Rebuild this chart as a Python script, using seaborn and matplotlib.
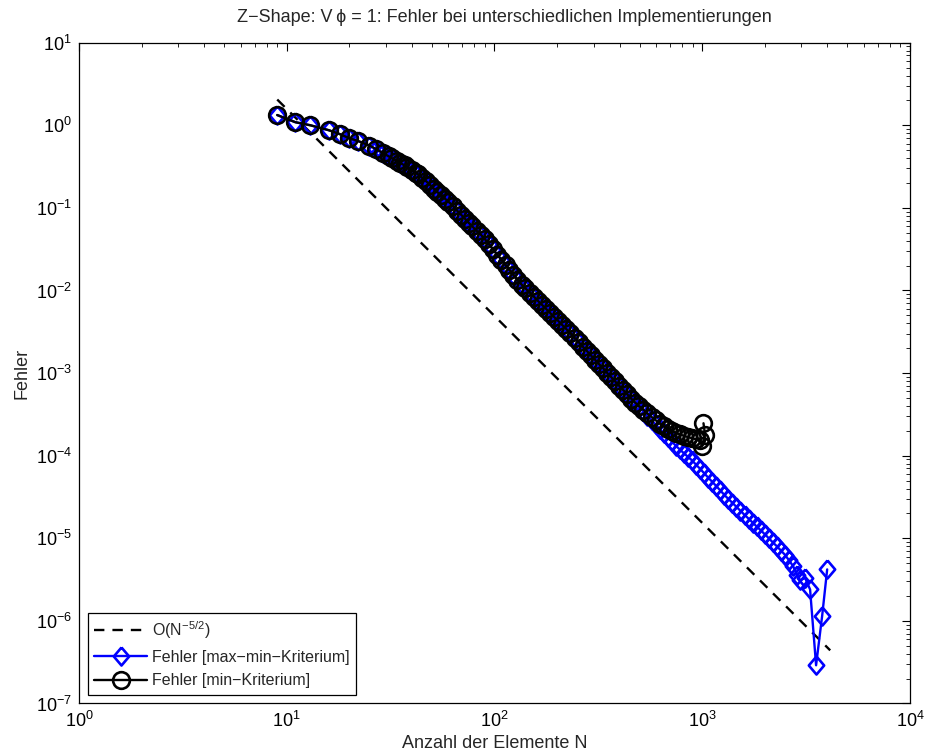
import numpy as np
import pandas as pd
import matplotlib
matplotlib.use("Agg")
import matplotlib.pyplot as plt
import seaborn as sns

# --- data ---
# O(N^-5/2) reference line, end points only
ref_n = [9, 4130]
ref_err = [2.05, 4.4e-7]

# error with max-min criterion (blue diamonds)
maxmin_n = [9, 11, 13, 16, 18, 20, 22, 25, 27, 29, 31, 32, 34, 35, 37, 38, 40, 42, 43, 45,
            47, 49, 51, 53, 55, 58, 60, 63, 66, 69, 72, 75, 78, 82, 86, 90, 94, 98, 103, 108,
            113, 118, 123, 129, 135, 141, 148, 155, 162, 169, 177, 185, 194, 203, 212, 222,
            232, 243, 254, 266, 278, 291, 304, 318, 333, 348, 364, 381, 398, 416, 435, 455,
            476, 498, 521, 545, 570, 596, 623, 652, 682, 713, 746, 780, 816, 853, 892, 933,
            976, 1021, 1068, 1117, 1168, 1222, 1278, 1336, 1397, 1461, 1528, 1598, 1671,
            1748, 1828, 1912, 2000, 2092, 2188, 2288, 2393, 2503, 2618, 2738, 2864, 2960,
            3129, 3305, 3532, 3778, 3994]
maxmin_err = [1.33, 1.09, 1.00, 0.869, 0.782, 0.697, 0.646, 0.569, 0.512, 0.462, 0.420, 0.401,
              0.368, 0.352, 0.326, 0.313, 0.288, 0.265, 0.254, 0.230, 0.209, 0.189, 0.171,
              0.156, 0.144, 0.128, 0.119, 0.106, 0.0929, 0.0828, 0.0741, 0.0664, 0.060, 0.053,
              0.0473, 0.0417, 0.0363, 0.0319, 0.0272, 0.0236, 0.0204, 0.0178, 0.0156, 0.0135,
              0.0118, 0.0106, 0.0094, 0.00838, 0.00746, 0.00673, 0.0060, 0.00537, 0.00475,
              0.00426, 0.00381, 0.0034, 0.00304, 0.00267, 0.00237, 0.00209, 0.00186, 0.00164,
              0.00146, 0.00129, 0.00115, 0.00101, 8.98e-4, 7.92e-4, 7.03e-4, 6.25e-4, 5.56e-4,
              4.91e-4, 4.35e-4, 3.86e-4, 3.43e-4, 3.05e-4, 2.69e-4, 2.39e-4, 2.13e-4, 1.88e-4,
              1.67e-4, 1.49e-4, 1.32e-4, 1.19e-4, 1.07e-4, 9.7e-5, 8.8e-5, 7.8e-5, 6.95e-5,
              6.14e-5, 5.43e-5, 4.83e-5, 4.29e-5, 3.79e-5, 3.35e-5, 2.99e-5, 2.69e-5, 2.40e-5,
              2.15e-5, 1.92e-5, 1.73e-5, 1.55e-5, 1.39e-5, 1.25e-5, 1.12e-5, 1.0e-5, 8.9e-6,
              8.0e-6, 7.1e-6, 6.3e-6, 5.4e-6, 4.6e-6, 3.6e-6, 3.1e-6, 3.3e-6, 2.4e-6, 2.9e-7,
              1.15e-6, 4.2e-6]

# error with min criterion (black circles)
min_n = [9, 11, 13, 16, 18, 20, 22, 25, 27, 29, 31, 32, 34, 35, 37, 38, 40, 42, 43, 45,
         47, 49, 51, 53, 55, 58, 60, 63, 66, 69, 72, 75, 78, 82, 86, 90, 94, 98, 103, 108,
         113, 118, 123, 129, 135, 141, 148, 155, 162, 169, 177, 185, 194, 203, 212, 222,
         232, 243, 254, 266, 278, 291, 304, 318, 333, 348, 364, 381, 398, 416, 435, 455,
         476, 498, 521, 545, 570, 596, 623, 652, 682, 713, 746, 780, 816, 853, 892, 933,
         976, 995, 1032, 1014]
min_err = [1.33, 1.09, 1.00, 0.869, 0.782, 0.697, 0.646, 0.569, 0.512, 0.462, 0.420, 0.401,
           0.368, 0.352, 0.326, 0.313, 0.288, 0.265, 0.254, 0.230, 0.209, 0.189, 0.171,
           0.156, 0.144, 0.128, 0.119, 0.106, 0.0929, 0.0828, 0.0741, 0.0664, 0.060, 0.053,
           0.0473, 0.0417, 0.0363, 0.0319, 0.0272, 0.0236, 0.0204, 0.0178, 0.0156, 0.0135,
           0.0118, 0.0106, 0.0094, 0.00838, 0.00746, 0.00673, 0.0060, 0.00537, 0.00475,
           0.00426, 0.00381, 0.0034, 0.00304, 0.00267, 0.00237, 0.00209, 0.00186, 0.00164,
           0.00146, 0.00129, 0.00115, 0.00101, 8.98e-4, 7.92e-4, 7.03e-4, 6.25e-4, 5.56e-4,
           4.91e-4, 4.38e-4, 3.95e-4, 3.6e-4, 3.25e-4, 2.95e-4, 2.7e-4, 2.45e-4, 2.27e-4,
           2.12e-4, 2.0e-4, 1.9e-4, 1.81e-4, 1.74e-4, 1.68e-4, 1.63e-4, 1.58e-4, 1.55e-4,
           1.31e-4, 1.78e-4, 2.47e-4]

labels = ["O(N$^{-5/2}$)", "Fehler [max\u2212min\u2212Kriterium]", "Fehler [min\u2212Kriterium]"]
title = "Z\u2212Shape: V\u2009\u03d5 = 1: Fehler bei unterschiedlichen Implementierungen"

sns.set_style("white")
plt.rcParams["font.family"] = ["Liberation Sans", "DejaVu Sans"]
plt.rcParams["mathtext.default"] = "regular"
plt.rcParams["font.size"] = 13

fig = plt.figure(figsize=(9.26, 7.54), dpi=100)
ax = fig.add_axes([0.0853, 0.067, 0.8974, 0.8764])

ref_df = pd.DataFrame({"N": ref_n, "err": ref_err})
mm_df = pd.DataFrame({"N": maxmin_n, "err": maxmin_err})
mi_df = pd.DataFrame({"N": min_n, "err": min_err})

# matlab-like diamond, a bit taller than wide
diamond = [(0, 1), (0.85, 0), (0, -1), (-0.85, 0), (0, 1)]

sns.lineplot(data=ref_df, x="N", y="err", ax=ax, color="black", lw=1.7,
             sort=False, estimator=None, label=labels[0],
             linestyle=(0, (4.4, 3.4)))
sns.lineplot(data=mm_df, x="N", y="err", ax=ax, color="blue", lw=1.7, sort=False,
             estimator=None, label=labels[1], marker=diamond, markersize=13,
             markerfacecolor="none", markeredgecolor="blue", markeredgewidth=1.9)
sns.lineplot(data=mi_df, x="N", y="err", ax=ax, color="black", lw=1.7, sort=False,
             estimator=None, label=labels[2], marker="o", markersize=12,
             markerfacecolor="none", markeredgecolor="black", markeredgewidth=1.9)

ax.set_xscale("log")
ax.set_yscale("log")
ax.set_xlim(1, 1e4)
ax.set_ylim(1e-7, 10)
ax.xaxis.set_major_locator(matplotlib.ticker.LogLocator(base=10, numticks=10))
ax.yaxis.set_major_locator(matplotlib.ticker.LogLocator(base=10, numticks=12))
ax.xaxis.set_minor_locator(matplotlib.ticker.LogLocator(base=10, subs=np.arange(2, 10), numticks=20))
ax.yaxis.set_minor_locator(matplotlib.ticker.LogLocator(base=10, subs=np.arange(2, 10), numticks=20))
ax.xaxis.set_minor_formatter(matplotlib.ticker.NullFormatter())
ax.yaxis.set_minor_formatter(matplotlib.ticker.NullFormatter())

ax.tick_params(which="both", direction="in", top=True, right=True, colors="black")
ax.tick_params(which="major", length=6, width=0.8, labelsize=13, pad=5)
ax.tick_params(which="minor", length=3, width=0.6)
for sp in ax.spines.values():
    sp.set_color("black")
    sp.set_linewidth(0.9)

ax.set_title(title, fontsize=13, pad=15, x=0.512)
ax.set_xlabel("Anzahl der Elemente N", fontsize=13, labelpad=3)
ax.set_ylabel("Fehler", fontsize=13, labelpad=4)

leg = ax.legend(loc="lower left", fontsize=11.5, handlelength=3.3, borderaxespad=0.55,
                fancybox=False, framealpha=1, edgecolor="black", labelspacing=0.55,
                borderpad=0.4, handletextpad=0.35)
leg.get_frame().set_linewidth(0.9)

fig.savefig("out.png", dpi=100)
